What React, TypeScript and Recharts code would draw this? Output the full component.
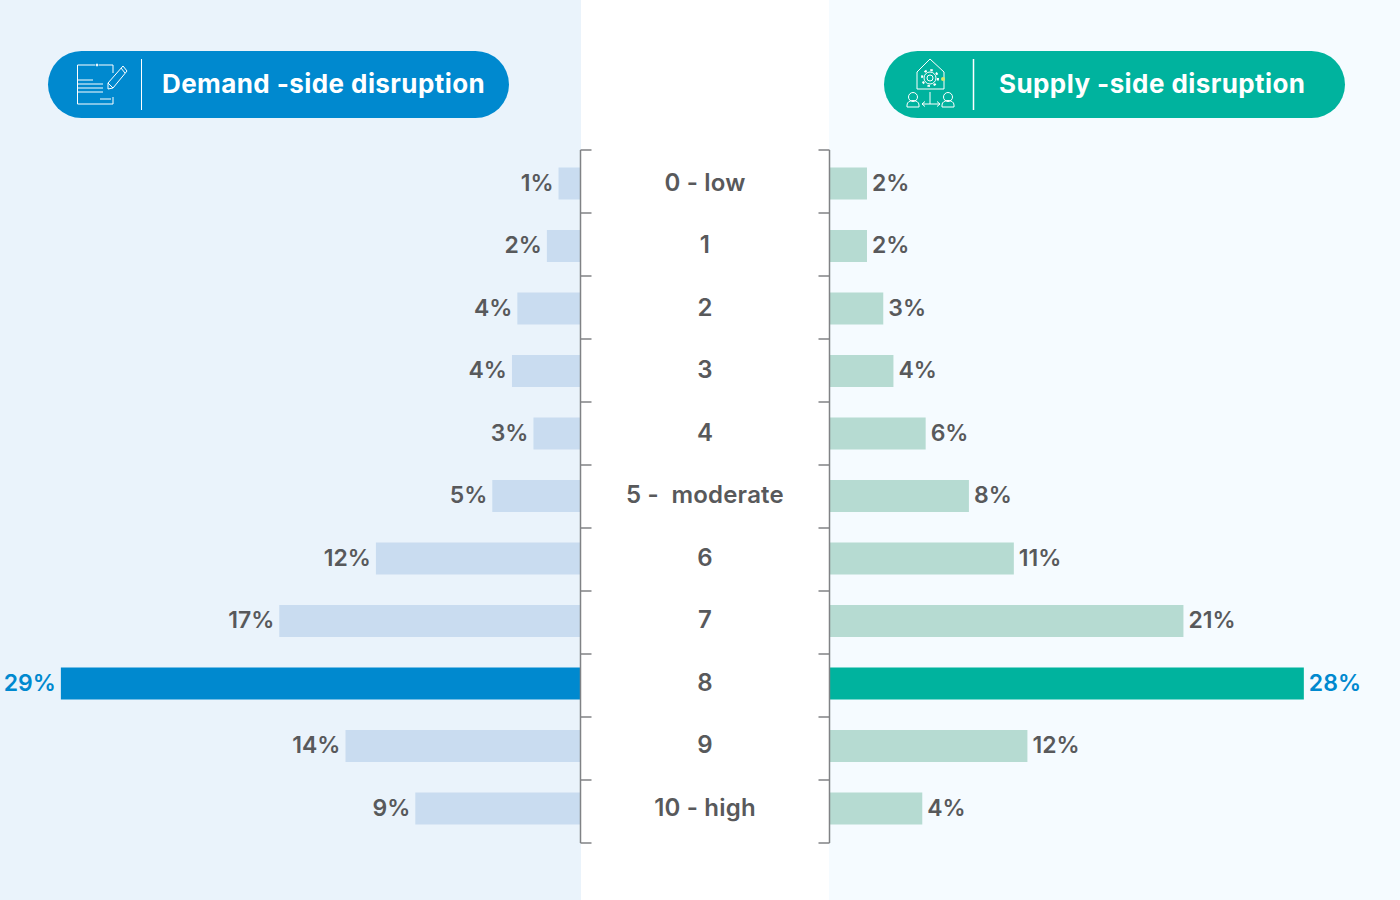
import React from 'react';
import { BarChart, Bar, XAxis, YAxis, Cell, LabelList } from 'recharts';

const levels = ['0 - low', '1', '2', '3', '4', '5 -\u00a0 moderate', '6', '7', '8', '9', '10 - high'];
const demandValues = [1.2, 1.85, 3.5, 3.8, 2.6, 4.9, 11.4, 16.8, 29, 13.1, 9.2];
const demandLabels = ['1%', '2%', '4%', '4%', '3%', '5%', '12%', '17%', '29%', '14%', '9%'];
const supplyValues = [2.24, 2.24, 3.2, 3.8, 5.7, 8.25, 10.9, 20.9, 28, 11.7, 5.5];
const supplyLabels = ['2%', '2%', '3%', '4%', '6%', '8%', '11%', '21%', '28%', '12%', '4%'];
const bracketTicks = [0, 1, 2, 3, 4, 5, 6, 7, 8, 9, 10, 11];
const peakIndex = 8;

const demandRows = levels.map((level, i) => ({ level, value: demandValues[i], label: demandLabels[i] }));
const supplyRows = levels.map((level, i) => ({ level, value: supplyValues[i], label: supplyLabels[i] }));
const bracketRows = bracketTicks.map((tick) => ({ tick }));

const FONT = 'Inter, Roboto, sans-serif';
const GREY = '#58595B';
const BLUE = '#0089CF';
const GREEN = '#00B39E';
const BRACKET = '#808285';
const bracketLine = { stroke: BRACKET, strokeWidth: 1.5 };

const LevelTick = ({ x, y, payload }: any) => (
  <text x={x + 117} y={y} dy={7} textAnchor="middle" fontFamily={FONT} fontWeight={600} fontSize={24} letterSpacing={0.2} fill={GREY}>
    {payload.value}
  </text>
);

const makeLabel = (labels: string[], side: 'left' | 'right') => (props: any) => {
  const { x, y, width, height, index } = props;
  const left = Math.min(x, x + width);
  const right = Math.max(x, x + width);
  return (
    <text
      x={side === 'left' ? left - 5 : right + 5}
      y={y + height / 2}
      dy={7}
      textAnchor={side === 'left' ? 'end' : 'start'}
      fontFamily={FONT}
      fontWeight={600}
      fontSize={23}
      fill={index === peakIndex ? BLUE : GREY}
    >
      {labels[index]}
    </text>
  );
};

const EmptyTick = () => <g />;

const Pill = ({ left, color, title, textLeft, children }: any) => (
  <div style={{ position: 'absolute', left, top: 51, width: 461, height: 67, borderRadius: 34, background: color }}>
    <svg width={110} height={67} style={{ position: 'absolute', left: 0, top: 0 }} fill="none" stroke="#fff" strokeWidth={1}>
      {children}
    </svg>
    <div
      style={{
        position: 'absolute',
        left: textLeft,
        top: 0,
        lineHeight: '66px',
        color: '#fff',
        fontFamily: FONT,
        fontWeight: 700,
        fontSize: 26,
        letterSpacing: 0.42,
        whiteSpace: 'nowrap',
      }}
    >
      {title}
    </div>
  </div>
);

export default function App() {
  return (
    <div style={{ position: 'absolute', left: 0, top: 0, width: 1400, height: 900, background: '#fff', overflow: 'hidden' }}>
      <div style={{ position: 'absolute', left: 0, top: 0, width: 581, height: 900, background: '#EAF3FB' }} />
      <div style={{ position: 'absolute', left: 829, top: 0, width: 571, height: 900, background: '#F5FBFF' }} />

      <Pill left={48} color={BLUE} title="Demand -side disruption" textLeft={114}>
        <path d="M47 14H29.5V53H65V46M51 14H65V22M29.5 29H45M29.5 33H55M29.5 37H55M29.5 41H55M52 48H63" />
        <circle cx={49} cy={14} r={1} fill="#fff" />
        <path d="M60 38V32L75 15L79 20L65 37Z M60 32L65 37 M73 17L77 22" />
        <line x1={93.5} y1={8} x2={93.5} y2={59} />
      </Pill>
      <Pill left={884} color={GREEN} title="Supply -side disruption" textLeft={115}>
        <path d="M33 38V21L46 8L60 21V38Z" />
        <circle cx={46} cy={27} r={6} />
        <circle cx={46} cy={27} r={8} strokeWidth={2} strokeDasharray="2.5 3.8" />
        <circle cx={46} cy={27} r={3} />
        <circle cx={59} cy={28} r={2} fill="#D9E66A" stroke="none" />
        <circle cx={29} cy={46} r={4.5} />
        <path d="M23 56V54C23 48 35 48 35 54V56Z" />
        <circle cx={64} cy={46} r={4.5} />
        <path d="M58 56V54C58 48 70 48 70 54V56Z" />
        <path d="M38 53H56M41 50.5L38 53L41 55.5M53 50.5L56 53L53 55.5M46 41V53" />
        <line x1={89.5} y1={8} x2={89.5} y2={59} strokeWidth={1.5} />
      </Pill>

      <div style={{ position: 'absolute', left: 0, top: 0 }}>
        <BarChart width={830} height={900} data={demandRows} layout="vertical" barSize={32} margin={{ top: 150, right: 0, bottom: 57, left: 0 }}>
          <XAxis type="number" domain={[0, 32.4]} reversed hide />
          <YAxis
            type="category"
            dataKey="level"
            orientation="right"
            width={250}
            padding={{ top: 2.5, bottom: 3 }}
            axisLine={false}
            tickLine={false}
            interval={0}
            tick={<LevelTick />}
          />
          <Bar dataKey="value" isAnimationActive={false}>
            {demandRows.map((_, i) => (
              <Cell key={i} fill={i === peakIndex ? BLUE : '#C9DCF0'} />
            ))}
            <LabelList dataKey="label" content={makeLabel(demandLabels, 'left')} />
          </Bar>
        </BarChart>
      </div>

      <div style={{ position: 'absolute', left: 829, top: 0 }}>
        <BarChart width={571} height={900} data={supplyRows} layout="vertical" barSize={32} margin={{ top: 150, right: 0, bottom: 57, left: 0 }}>
          <XAxis type="number" domain={[0, 33.67]} hide />
          <YAxis type="category" dataKey="level" hide padding={{ top: 2.5, bottom: 3 }} />
          <Bar dataKey="value" isAnimationActive={false}>
            {supplyRows.map((_, i) => (
              <Cell key={i} fill={i === peakIndex ? GREEN : '#B6DBD2'} />
            ))}
            <LabelList dataKey="label" content={makeLabel(supplyLabels, 'right')} />
          </Bar>
        </BarChart>
      </div>

      <div style={{ position: 'absolute', left: 570, top: 0 }}>
        <BarChart width={270} height={900} data={bracketRows} layout="vertical" margin={{ top: 150, right: 10.5, bottom: 57, left: 10.5 }}>
          <XAxis type="number" hide />
          <YAxis yAxisId="a" type="number" orientation="left" mirror width={1} domain={[0, 11]} ticks={bracketTicks} interval={0} tickSize={11} tick={<EmptyTick />} axisLine={bracketLine} tickLine={bracketLine} />
          <YAxis yAxisId="b" type="number" orientation="right" mirror width={1} domain={[0, 11]} ticks={bracketTicks} interval={0} tickSize={11} tick={<EmptyTick />} axisLine={bracketLine} tickLine={bracketLine} />
        </BarChart>
      </div>
    </div>
  );
}
